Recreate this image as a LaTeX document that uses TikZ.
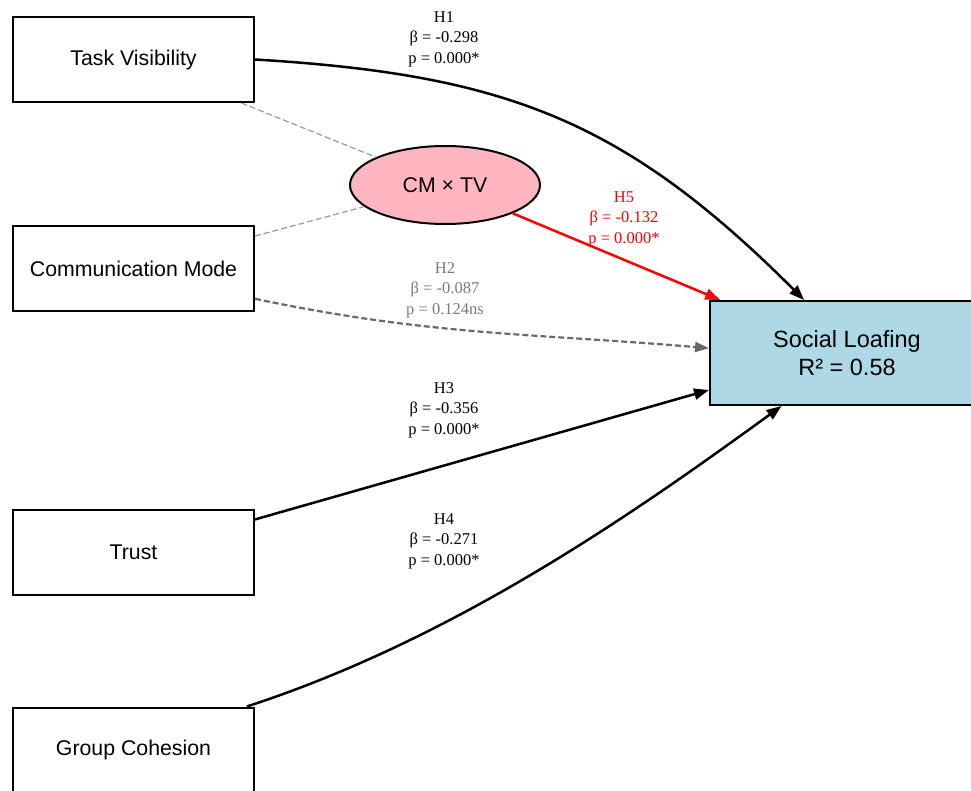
\documentclass[tikz,border=0pt]{standalone}
\usepackage{fontspec}
\setmainfont{Liberation Serif}
\setsansfont{Liberation Sans}
\usetikzlibrary{arrows.meta,shapes.geometric}
\definecolor{lpink}{HTML}{FFB6C1}
\definecolor{lblue}{HTML}{ADD8E6}
\definecolor{dgray}{HTML}{696969}
\definecolor{mgray}{HTML}{7A7A7A}
\definecolor{lgray}{HTML}{999999}
\begin{document}
\begin{tikzpicture}[x=1pt,y=-1pt,
  varbox/.style={draw=black, line width=2pt, rectangle, minimum width=241pt, minimum height=85pt, inner sep=0pt, font=\sffamily\fontsize{21.3}{25}\selectfont},
  outbox/.style={draw=black, line width=2pt, rectangle, fill=lblue, minimum width=274pt, minimum height=104pt, inner sep=0pt, align=center, font=\sffamily\fontsize{23.5}{28}\selectfont},
  modell/.style={draw=black, line width=2pt, ellipse, fill=lpink, minimum width=190pt, minimum height=78pt, inner sep=0pt, font=\sffamily\fontsize{21.3}{25}\selectfont},
  path/.style={line width=2.5pt, -{Triangle[length=15pt,width=11pt]}},
  lbl/.style={align=center, inner sep=0pt, font=\fontsize{16.5}{20.5}\selectfont},
  link/.style={draw=lgray, line width=1.2pt, dash pattern=on 6pt off 3pt},
]
\useasboundingbox (0,0) rectangle (971,790);
\clip (0,0) rectangle (971,790);

\node[varbox] (tv) at (133.5,59.5) {Task Visibility};
\node[varbox] (cm) at (133.5,268.5) {Communication Mode};
\node[varbox] (tr) at (133.5,552) {Trust};
\node[varbox] (gc) at (133.5,750) {Group Cohesion};
\node[outbox] (sl) at (847,353) {Social Loafing\\R² = 0.58};
\node[modell] (cx) at (445,185) {CM × TV};

\draw[link] (tv) -- (cx);
\draw[link] (cm) -- (cx);

\draw[path] (tv.east) .. controls +(250,15) and +(-180,-180) .. (sl.129.5);
\draw[path, draw=dgray, line width=2.2pt, dash pattern=on 6pt off 3pt, -{Triangle[length=14pt,width=10pt]}] (cm.-14) .. controls +(176,37) and +(-177,-15) .. (sl.178.3);
\draw[path] (tr.15.5) -- (sl.195.9);
\draw[path] (gc.21.1) .. controls +(209,-68) and +(-146,106) .. (sl.219.4);
\draw[path, draw=red] (cx) -- (sl);

\node[lbl] (l1) at (444,39) {H1\\β = -0.298\\p = 0.000*};
\node[lbl, text=mgray] (l2) at (445,290) {H2\\β = -0.087\\p = 0.124ns};
\node[lbl] (l3) at (444,410) {H3\\β = -0.356\\p = 0.000*};
\node[lbl] (l4) at (444,541) {H4\\β = -0.271\\p = 0.000*};
\node[lbl, text=red] (l5) at (624,219) {H5\\β = -0.132\\p = 0.000*};
\end{tikzpicture}
\end{document}
